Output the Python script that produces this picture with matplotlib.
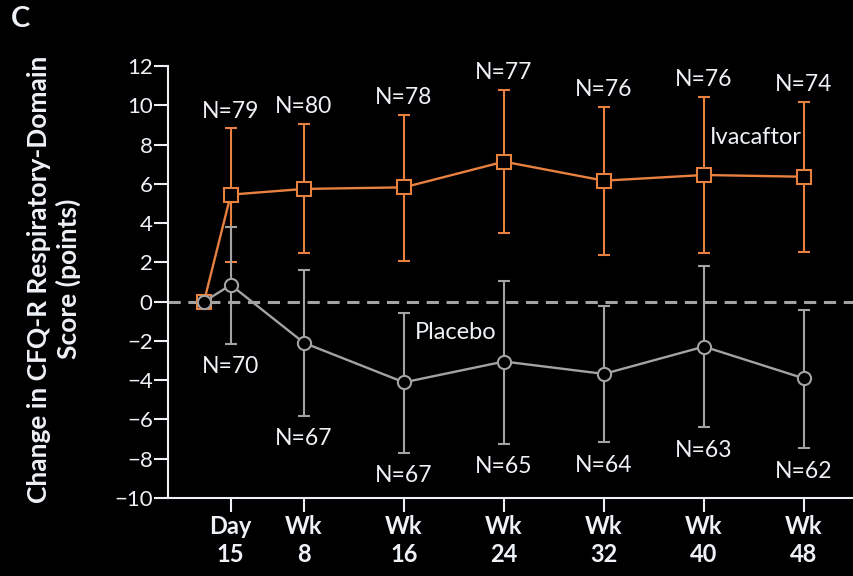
import numpy as np
import matplotlib.pyplot as plt

plt.rcParams["font.family"] = ["Lato", "DejaVu Sans"]

# visit positions in weeks (baseline, day 15, then weeks 8..48)
visits = [0, 15 / 7, 8, 16, 24, 32, 40, 48]
tick_labels = ["Day\n15", "Wk\n8", "Wk\n16", "Wk\n24", "Wk\n32", "Wk\n40", "Wk\n48"]

ivacaftor = [0, 5.45, 5.74, 5.82, 7.13, 6.16, 6.45, 6.36]
ivacaftor_hi = [0, 8.84, 9.05, 9.51, 10.78, 9.93, 10.44, 10.18]
ivacaftor_lo = [0, 2.00, 2.46, 2.09, 3.48, 2.39, 2.46, 2.55]
ivacaftor_n = [79, 80, 78, 77, 76, 76, 74]

placebo = [0, 0.85, -2.10, -4.11, -3.05, -3.68, -2.29, -3.91]
placebo_hi = [0, 3.82, 1.61, -0.58, 1.07, -0.20, 1.83, -0.41]
placebo_lo = [0, -2.15, -5.80, -7.69, -7.23, -7.16, -6.40, -7.47]
placebo_n = [70, 67, 67, 65, 64, 63, 62]

ORANGE = "#E8803F"
GRAY = "#A3A3A3"
TEXT = "#EEF2F6"
BG = "black"

fig = plt.figure(figsize=(8.54, 5.76), dpi=100, facecolor=BG)
ax = fig.add_axes([168 / 854, 78 / 576, 1 - 168 / 854, 432 / 576], facecolor=BG)

ax.axhline(0, color=GRAY, lw=2.2, ls=(0, (4, 2.5)), zorder=1)


def draw_arm(y, hi, lo, color, marker, z):
    y = np.array(y)
    x = np.array(visits)
    err = np.vstack([y - np.array(lo), np.array(hi) - y])
    ax.errorbar(x[1:], y[1:], yerr=err[:, 1:], fmt="none", ecolor=color,
                elinewidth=1.5, capsize=4.3, capthick=1.5, zorder=z)
    ax.plot(x, y, color=color, lw=1.7, marker=marker, ms=9.5,
            mfc=BG, mec=color, mew=1.5, zorder=z + 1)


draw_arm(ivacaftor, ivacaftor_hi, ivacaftor_lo, ORANGE, "s", 3)
draw_arm(placebo, placebo_hi, placebo_lo, GRAY, "o", 5)

for x, top, n in zip(visits[1:], ivacaftor_hi[1:], ivacaftor_n):
    ax.annotate(f"N={n}", (x, top), xytext=(0, 17), textcoords="offset pixels",
                ha="center", va="center", color=TEXT, fontsize=16.5)
for x, bot, n in zip(visits[1:], placebo_lo[1:], placebo_n):
    ax.annotate(f"N={n}", (x, bot), xytext=(0, -23), textcoords="offset pixels",
                ha="center", va="center", color=TEXT, fontsize=16.5)

ax.text(40.5, 8.35, "Ivacaftor", color=TEXT, fontsize=17, ha="left", va="center")
ax.text(16.9, -1.57, "Placebo", color=TEXT, fontsize=17, ha="left", va="center")

ax.set_xlim(-2.88, 52)
ax.set_ylim(-10, 12)
ax.set_yticks(range(-10, 13, 2))
ax.set_yticklabels([f"\u2212{abs(v)}" if v < 0 else str(v) for v in range(-10, 13, 2)],
                   fontsize=16)
ax.set_xticks(visits[1:])
ax.set_xticklabels(tick_labels, fontweight="bold", fontsize=17, linespacing=1.3)

for side in ("top", "right"):
    ax.spines[side].set_visible(False)
for side in ("left", "bottom"):
    ax.spines[side].set_color(TEXT)
    ax.spines[side].set_linewidth(1.5)

ax.tick_params(axis="both", colors=TEXT, labelcolor=TEXT,
               length=10, width=1.5, direction="out")
ax.tick_params(axis="y", pad=1)
ax.tick_params(axis="x", pad=2)

fig.text(54 / 854, 1 - 279 / 576, "Change in CFQ-R Respiratory-Domain\nScore (points)",
         rotation=90, ha="center", va="center", multialignment="center",
         color=TEXT, fontsize=19, fontweight="bold", linespacing=1.2)
fig.text(21 / 854, 1 - 19 / 576, "C", ha="center", va="center",
         color=TEXT, fontsize=21, fontweight="bold")

fig.savefig("out.png", dpi=100, facecolor=BG)
